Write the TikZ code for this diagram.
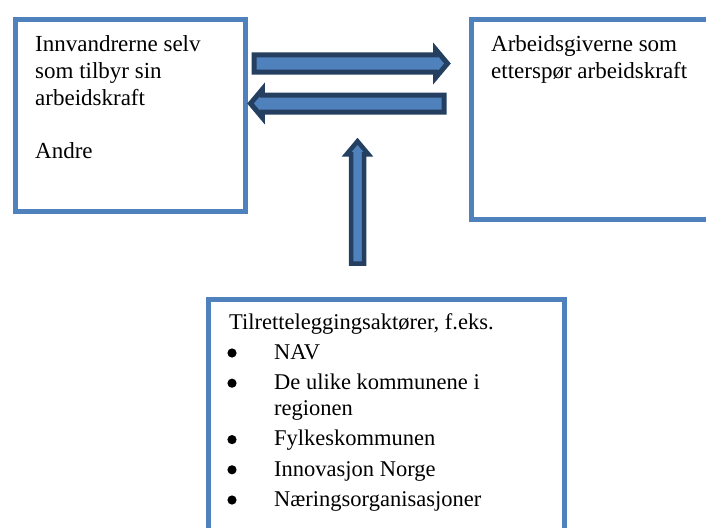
\documentclass[tikz,border=0pt]{standalone}
\usepackage{fontspec}
\setmainfont{Liberation Serif}
\usetikzlibrary{shapes.arrows, positioning}
\definecolor{boxblue}{HTML}{4F81BD}
\definecolor{arrowdark}{HTML}{243F60}
\tikzset{
    panel/.style={
        rectangle, draw=boxblue, line width=5pt, fill=white, inner sep=0pt, anchor=north west
    },
    paneltext/.style={
        inner sep=0pt, anchor=base west, font=\fontsize{23}{26.7}\selectfont
    },
    flowarrow/.style={
        single arrow, draw=arrowdark, fill=boxblue, line width=5pt, inner xsep=0pt, inner ysep=6pt,
        single arrow head extend=5.6pt, single arrow tip angle=100, minimum height=193.5pt, anchor=tail
    },
    thinarrow/.style={
        flowarrow, line width=4.5pt, inner xsep=4.25pt, inner ysep=0pt, single arrow head extend=4.5pt,
        single arrow tip angle=80, minimum height=122.25pt
    }
}

\begin{document}
\begin{tikzpicture}[x=1pt, y=-1pt]
    \useasboundingbox (0,0) rectangle (706,527);
    \clip (0,0) rectangle (706,527);

    % Boxes
    \node[panel, minimum width=230pt, minimum height=191pt] (supplyBox) at (12.5,17.5) {};
    \node[panel, minimum width=291pt, minimum height=199.5pt] (demandBox) at (468.7,17.5) {};
    \node[panel, minimum width=356.5pt, minimum height=303pt] (facilitatorBox) at (205.5,296.5) {};

    % Box texts
    \node[paneltext] (supplyText) at (35,51.7) {\parbox[t]{200pt}{Innvandrerne selv\\som tilbyr sin\\arbeidskraft\\[26.7pt]Andre}};
    \node[paneltext] (demandText) at (491,52) {\parbox[t]{210pt}{Arbeidsgiverne som\\etterspør arbeidskraft}};
    \node[paneltext, font=\fontsize{22.5}{26.2}\selectfont] (facilitatorText) at (229,329) {\parbox[t]{325pt}{\raggedright\setlength{\parskip}{4pt}\setlength{\parindent}{0pt}%
        Tilretteleggingsaktører, f.eks.\par
        \leftskip=45pt
        NAV\par
        De ulike kommunene i\newline regionen\par
        Fylkeskommunen\par
        Innovasjon Norge\par
        Næringsorganisasjoner\par}};

    % Bullets
    \foreach \y in {353, 383.2, 439.6, 469.8, 500}
        \fill (232,\y) circle (4.6pt);

    % Arrows
    \node[flowarrow] (offerArrow) at (251.5,63.5) {};
    \node[flowarrow, shape border rotate=180] (requestArrow) at (446.5,103.5) {};
    \node[thinarrow, shape border rotate=90] (supportArrow) at (357.5,265.75) {};

\end{tikzpicture}
\end{document}
